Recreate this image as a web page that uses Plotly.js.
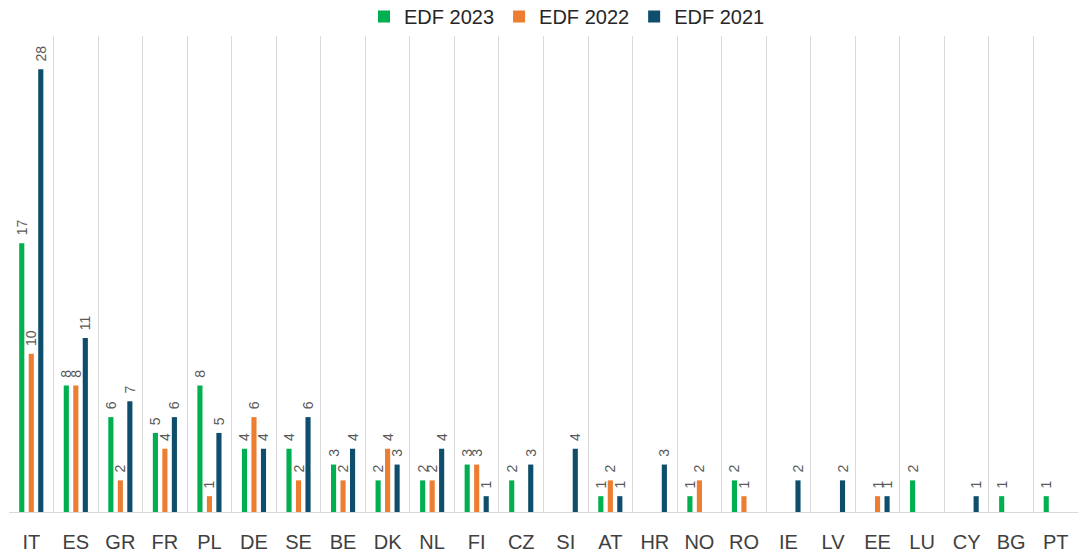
<!DOCTYPE html>
<html>
<head>
<meta charset="utf-8">
<script src="https://cdn.plot.ly/plotly-3.0.1.min.js"></script>
<style>html,body{margin:0;padding:0;background:#fff;}#chart{width:1082px;height:554px;}</style>
</head>
<body>
<div id="chart"></div>
<script>
const categories = ["IT","ES","GR","FR","PL","DE","SE","BE","DK","NL","FI","CZ","SI","AT","HR","NO","RO","IE","LV","EE","LU","CY","BG","PT"];
const edf2023 = [17, 8, 6, 5, 8, 4, 4, 3, 2, 2, 3, 2, null, 1, null, 1, 2, null, null, null, 2, null, 1, 1];
const edf2022 = [10, 8, 2, 4, 1, 6, 2, 2, 4, 2, 3, null, null, 2, null, 2, 1, null, null, 1, null, null, null, null];
const edf2021 = [28, 11, 7, 6, 5, 4, 6, 4, 3, 4, 1, 3, 4, 1, 3, null, null, 2, 2, 1, null, 1, null, null];

const seriesNames = ["EDF 2023", "EDF 2022", "EDF 2021"];
const seriesColors = ["#00B050", "#ED7D31", "#0E4D6B"];
const seriesData = [edf2023, edf2022, edf2021];

const traces = seriesData.map((vals, i) => ({
  type: "bar",
  name: seriesNames[i],
  x: categories,
  y: vals,
  marker: { color: seriesColors[i] },
  text: vals.map(v => v == null ? "" : "\u00a0\u00a0" + String(v)),
  textposition: "outside",
  textangle: -90,
  constraintext: "none",
  cliponaxis: false,
  textfont: { family: "Liberation Sans, Arial, sans-serif", size: 14, color: "#595959" },
  hoverinfo: "x+y+name"
}));

const layout = {
  width: 1082,
  height: 554,
  margin: { l: 9, r: 4, t: 36, b: 42, autoexpand: false },
  paper_bgcolor: "#ffffff",
  plot_bgcolor: "#ffffff",
  barmode: "group",
  bargap: 0.36,
  bargroupgap: 0.46,
  showlegend: true,
  legend: {
    orientation: "h",
    x: 0.522, xanchor: "center",
    y: 1.0, yanchor: "bottom",
    font: { family: "Liberation Sans, Arial, sans-serif", size: 20, color: "#262626" },
    itemwidth: 30,
    tracegroupgap: 0
  },
  xaxis: {
    type: "category",
    tickson: "boundaries",
    showgrid: true,
    gridcolor: "#d9d9d9",
    gridwidth: 1,
    showline: true,
    linecolor: "#d9d9d9",
    linewidth: 1,
    ticks: "",
    tickfont: { family: "Liberation Sans, Arial, sans-serif", size: 20, color: "#404040" },
    ticklabelstandoff: 12,
    fixedrange: true
  },
  yaxis: {
    range: [0, 30.1],
    showgrid: false,
    zeroline: false,
    showline: false,
    showticklabels: false,
    ticks: "",
    fixedrange: true
  }
};

Plotly.newPlot("chart", traces, layout, { displayModeBar: false, staticPlot: true });
</script>
</body>
</html>
